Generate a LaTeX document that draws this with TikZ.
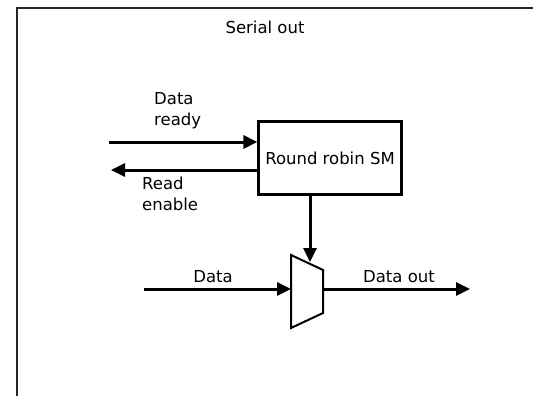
\documentclass[tikz,border=0pt]{standalone}
\usepackage{fontspec}
\setmainfont{DejaVu Sans}
\usetikzlibrary{arrows.meta}
\begin{document}
\begin{tikzpicture}[x=1pt,y=-1pt,
  every node/.style={font=\fontsize{16.5}{20}\selectfont, inner sep=0pt},
  frameline/.style={line width=1.8pt, draw=black!85},
  blockbox/.style={draw, line width=2.2pt, minimum width=143pt, minimum height=73pt, inner sep=0pt},
  muxshape/.style={draw, line width=2pt, line join=miter},
  sig/.style={line width=3pt, -{Triangle[length=14pt,width=13pt]}},
  lbl/.style={align=left, text height=12pt, text depth=3pt}
]
\useasboundingbox (0,0) rectangle (533,396);
% outer frame (only the top and left edges fall inside the page)
\draw[frameline] (17,396) -- (17,8) -- (533,8);
\node (title) at (265,27) {Serial out};

% round robin state machine
\node[blockbox] (sm) at (330,158) {Round robin SM};

% multiplexer
\coordinate (mtl) at (291,255);
\coordinate (mtr) at (323,270);
\coordinate (mbr) at (323,313);
\coordinate (mbl) at (291,328);
\draw[muxshape] (mtl) -- (mtr) -- (mbr) -- (mbl) -- cycle;
\coordinate (muxin) at (291,289);
\coordinate (muxout) at (323,289);
\coordinate (muxsel) at (310,262);

% free ends of the signals
\coordinate (drsrc) at (109,142);
\coordinate (redst) at (111,170);
\coordinate (dsrc) at (144,289);
\coordinate (odst) at (470,289);

\draw[sig] (drsrc) -- (drsrc -| sm.west);
\draw[sig] (sm.west |- redst) -- (redst);
\draw[sig] (sm.south -| muxsel) -- (muxsel);
\draw[sig] (dsrc) -- (muxin);
\draw[sig] (muxout) -- (odst);

% labels
\node[lbl, anchor=west] (ldr) at (154,121) {Data\\[1pt]ready};
\node[lbl, anchor=west] (lre) at (142,206) {Read\\[1pt]enable};
\node (ld) at (213,277) {Data};
\node (ldo) at (399,277) {Data out};
\end{tikzpicture}
\end{document}
